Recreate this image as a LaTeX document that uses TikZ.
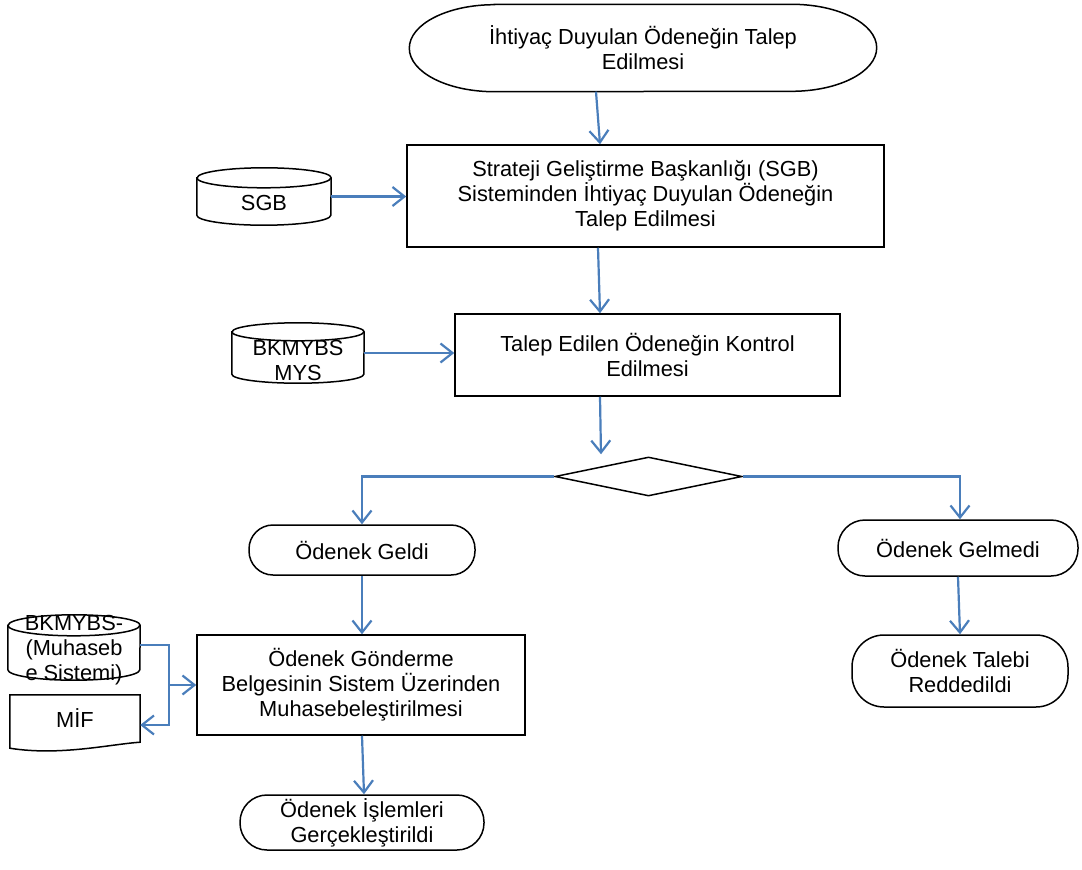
\documentclass[tikz,border=0pt]{standalone}
\usepackage{fontspec}
\setmainfont{Liberation Sans}
\usetikzlibrary{arrows.meta,shapes.geometric}
\definecolor{akisblue}{RGB}{74,126,187}
% veri tabani silindiri: #1 dugum, #2 yari genislik, #3 elips yaricapi
\newcommand{\vtsilindir}[3]{%
    \draw [line width=1.5pt] ([yshift=-#3]#1.north west) -- ([yshift=#3]#1.south west)
        arc [start angle=180,end angle=360,x radius=#2,y radius=#3]
        -- ([yshift=-#3]#1.north east)
        arc [start angle=0,end angle=180,x radius=#2,y radius=#3] -- cycle;
    \draw [line width=1.5pt] ([yshift=-#3]#1.north west) arc [start angle=180,end angle=360,x radius=#2,y radius=#3];}
\begin{document}
\begin{tikzpicture}[x=1pt,y=-1pt,
    font=\fontsize{21.8}{25}\selectfont,
    kutu/.style={draw,line width=1.5pt,rectangle,align=center,inner sep=0pt},
    uc/.style={draw,line width=1.5pt,rectangle,rounded corners=24pt,align=center,inner sep=0pt},
    vt/.style={inner sep=0pt,align=center},
    ok/.style={draw=akisblue,line width=2.2pt,-{Straight Barb[length=12pt,width=19pt,line width=2.2pt]}},
    hat/.style={draw=akisblue,line width=2.2pt}]
    \useasboundingbox (0,0) rectangle (1082,870);
    % baslangic
    \node [align=center,minimum width=467pt,minimum height=87pt,inner sep=0pt] (baslangic) at (643,48) {İhtiyaç Duyulan Ödeneğin Talep\\Edilmesi};
    \draw [line width=1.5pt] ([xshift=85pt]baslangic.north west) -- ([xshift=-85pt]baslangic.north east)
        arc [start angle=90,end angle=-90,x radius=85pt,y radius=43.5pt]
        -- ([xshift=85pt]baslangic.south west)
        arc [start angle=270,end angle=90,x radius=85pt,y radius=43.5pt] -- cycle;
    \node [kutu,minimum width=477pt,minimum height=102pt] (sgbtalep) at (645.5,196) {Strateji Geliştirme Başkanlığı (SGB)\\Sisteminden İhtiyaç Duyulan Ödeneğin\\Talep Edilmesi};
    \node [vt,minimum width=134pt,minimum height=57pt] (sgb) at (264,196.5) {};
    \node [vt] at ([yshift=-6pt]sgb.center) {SGB};
    \vtsilindir{sgb}{67pt}{10pt}
    \node [kutu,minimum width=385pt,minimum height=82pt] (kontrol) at (647.5,355) {Talep Edilen Ödeneğin Kontrol\\Edilmesi};
    \node [vt,minimum width=132pt,minimum height=60pt] (mys) at (298,353) {};
    \node [vt] at ([yshift=-7pt]mys.center) {BKMYBS\\MYS};
    \vtsilindir{mys}{66pt}{9pt}
    % karar
    \node [draw,line width=1.5pt,diamond,aspect=4.8,minimum width=187pt,minimum height=39pt,inner sep=0pt] (karar) at (648.5,476.5) {};
    \node [uc,minimum width=226pt,minimum height=50pt] (geldi) at (362,550) {Ödenek Geldi};
    \node [uc,minimum width=240pt,minimum height=56pt,rounded corners=27pt] (gelmedi) at (958,548) {Ödenek Gelmedi};
    \node [kutu,minimum width=328pt,minimum height=100pt] (belge) at (361,685) {Ödenek Gönderme\\Belgesinin Sistem Üzerinden\\Muhasebeleştirilmesi};
    \node [uc,minimum width=216pt,minimum height=72pt,rounded corners=32pt] (red) at (960,671) {Ödenek Talebi\\Reddedildi};
    \node [uc,minimum width=244pt,minimum height=55pt,rounded corners=27pt] (islem) at (362,822.5) {Ödenek İşlemleri\\Gerçekleştirildi};
    \node [vt,minimum width=132pt,minimum height=65pt] (muh) at (74,647.5) {};
    \node [vt] at ([yshift=-3pt]muh.center) {BKMYBS-\\(Muhaseb\\e Sistemi)};
    \vtsilindir{muh}{66pt}{10.5pt}
    % belge sekli
    \node [minimum width=130pt,minimum height=47pt,inner sep=0pt] (mif) at (75,718.5) {MİF};
    \draw [line width=1.5pt] ([yshift=-6pt]mif.south west) -- (mif.north west) -- (mif.north east) -- (mif.south east)
        .. controls ([xshift=-30pt,yshift=-2pt]mif.south east) and ([xshift=50pt,yshift=-14pt]mif.south west) .. ([yshift=-6pt]mif.south west) -- cycle;
    % baglantilar
    \draw [ok] ([xshift=-47pt]baslangic.south) -- ([xshift=-45.5pt]sgbtalep.north);
    \draw [ok] (sgb.east) -- (sgb.east -| sgbtalep.west);
    \draw [ok] ([xshift=-47.5pt]sgbtalep.south) -- ([xshift=-47.5pt]kontrol.north);
    \draw [ok] (mys.east) -- (mys.east -| kontrol.west);
    \draw [ok] ([xshift=-47.5pt]kontrol.south) -- ([xshift=-47.5pt,yshift=2pt]karar.north);
    \draw [ok] (karar.west) -| (geldi.north);
    \draw [ok] (karar.east) -| ([xshift=2pt]gelmedi.north);
    \draw [ok] (geldi.south) -- (geldi.south |- belge.north);
    \draw [ok] (gelmedi.south) -- (red.north);
    \draw [ok] ([xshift=1pt]belge.south) -- ([xshift=2pt]islem.north);
    \coordinate (kavsak) at ([xshift=-27pt]belge.west);
    \draw [hat] ([yshift=2.5pt]muh.east) -| (kavsak);
    \draw [ok] (kavsak) -- (belge.west);
    \draw [ok] (kavsak) |- ([yshift=-6.5pt]mif.east);
\end{tikzpicture}
\end{document}
